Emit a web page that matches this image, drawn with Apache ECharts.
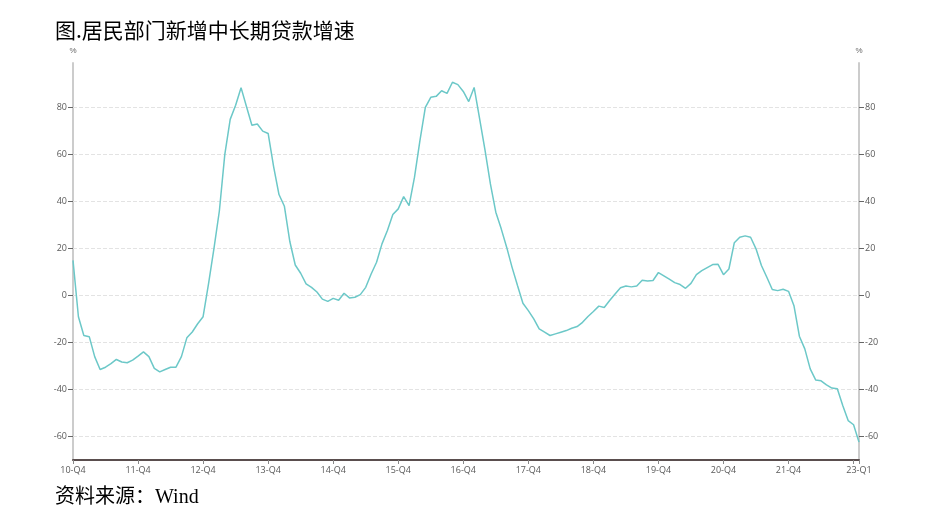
<!DOCTYPE html>
<html>
<head>
<meta charset="utf-8">
<title>居民部门新增中长期贷款增速</title>
<script src="https://cdn.jsdelivr.net/npm/echarts@6/dist/echarts.min.js"></script>
<style>
  html, body { margin: 0; padding: 0; background: #fff; }
  #chart { width: 940px; height: 528px; }
</style>
</head>
<body>
<div id="chart"></div>
<script>
// 月度数据：2010-12 至 2023-01，共146个点
var startYear = 2010, startMonth = 12;
var values = [
  15, -9, -17, -17.5, -26, -31.5, -30.5, -29, -27.2, -28.3, -28.6, -27.5,
  -25.8, -24, -26, -31, -32.5, -31.5, -30.5, -30.5, -26, -18, -15.5, -12,
  -9, 5, 20, 36, 60, 75, 81, 88.5, 80.5, 72.5, 73, 70,
  69, 55, 43, 38, 23, 13, 9.5, 5, 3.5, 1.5, -1.5, -2.5,
  -1.2, -2, 1, -1, -0.7, 0.4, 3.5, 9.2, 14.2, 22, 27.7, 34.5,
  36.9, 42.1, 38.3, 50.4, 66, 80.1, 84.4, 84.8, 87.2, 86.1, 90.8, 89.8,
  86.9, 82.6, 88.6, 75.4, 62, 47.5, 35.5, 28.4, 20.6, 12, 4.3, -3.3,
  -6.4, -9.9, -14.2, -15.6, -17, -16.3, -15.6, -14.9, -13.9, -13.2, -11.4, -8.9,
  -6.8, -4.5, -5.1, -2.1, 0.7, 3.3, 4.1, 3.7, 4.1, 6.5, 6.2, 6.4,
  9.8, 8.4, 7, 5.5, 4.7, 3.1, 5.2, 8.9, 10.6, 11.9, 13.2, 13.3,
  8.9, 11.3, 22.5, 24.8, 25.4, 24.8, 19.9, 12.8, 7.8, 2.6, 2.1, 2.7,
  1.8, -4.3, -17.3, -22.7, -31.2, -35.9, -36.3, -38, -39.4, -39.7, -46.8, -53.2,
  -55, -62.4
];

// 网格线位置
var gridValues = [-60, -40, -20, 0, 20, 40, 60, 80];

// 类目：yy-Qn
var categories = [];
for (var i = 0; i < values.length; i++) {
  var m = (startMonth - 1 + i) % 12 + 1;
  var y = startYear + Math.floor((startMonth - 1 + i) / 12);
  categories.push(String(y).slice(2) + '-Q' + Math.ceil(m / 3));
}
var lastIdx = categories.length - 1;

var yMin = -70, yMax = 99;

var dom = document.getElementById('chart');
var myChart = echarts.init(dom, null, { renderer: 'canvas' });

function yAxisCfg(pos) {
  return {
    type: 'value',
    position: pos,
    min: yMin,
    max: yMax,
    splitNumber: 8,
    name: '%',
    nameLocation: 'end',
    nameGap: 8,
    nameTextStyle: { color: '#666', fontSize: 8, align: 'center' },
    axisLine: { show: true, onZero: false, lineStyle: { color: '#cccccc', width: 2 } },
    axisTick: { show: true, length: 5, lineStyle: { color: '#666', width: 1 } },
    axisLabel: {
      color: '#595959', fontSize: 9, margin: 6,
      showMinLabel: false, showMaxLabel: false,
      fontFamily: '"Open Sans", sans-serif'
    },
    splitLine: { show: false }
  };
}

var option = {
  backgroundColor: '#fff',
  animation: false,
  title: [
    {
      text: '图.居民部门新增中长期贷款增速',
      left: 55, top: 20, padding: 0,
      textStyle: { fontSize: 21, fontWeight: 'normal', color: '#000', fontFamily: '"Noto Sans CJK SC"' }
    },
    {
      text: '资料来源：Wind',
      left: 55, top: 488, padding: 0,
      textStyle: { fontSize: 20, fontWeight: 'normal', color: '#000', fontFamily: '"Liberation Serif", "Noto Sans CJK SC"' }
    }
  ],
  grid: { left: 73, right: 81, top: 63, bottom: 68, containLabel: false },
  xAxis: {
    type: 'category',
    data: categories,
    boundaryGap: false,
    axisLine: { onZero: false, lineStyle: { color: '#5a4e4e', width: 2 } },
    axisTick: {
      length: 4,
      lineStyle: { color: '#888' },
      interval: function (idx) { return idx % 12 === 0 || idx === lastIdx; }
    },
    axisLabel: {
      color: '#595959', fontSize: 9, margin: 6,
      fontFamily: '"Open Sans", sans-serif',
      interval: function (idx) { return (idx % 12 === 0 && idx !== lastIdx - 1) || idx === lastIdx; }
    },
    splitLine: { show: false }
  },
  yAxis: [yAxisCfg('left'), yAxisCfg('right')],
  series: [
    {
      type: 'line',
      data: values,
      yAxisIndex: 0,
      showSymbol: false,
      z: 3,
      lineStyle: { color: '#6cc8c8', width: 1.5 },
      itemStyle: { color: '#6cc8c8' },
      markLine: {
        silent: true,
        symbol: 'none',
        label: { show: false },
        lineStyle: { color: '#e3e3e3', type: 'dashed', width: 1 },
        data: gridValues.map(function (v) { return { yAxis: v }; }),
        z: 1
      }
    }
  ]
};

myChart.setOption(option);
window.addEventListener('resize', myChart.resize);
</script>
</body>
</html>
